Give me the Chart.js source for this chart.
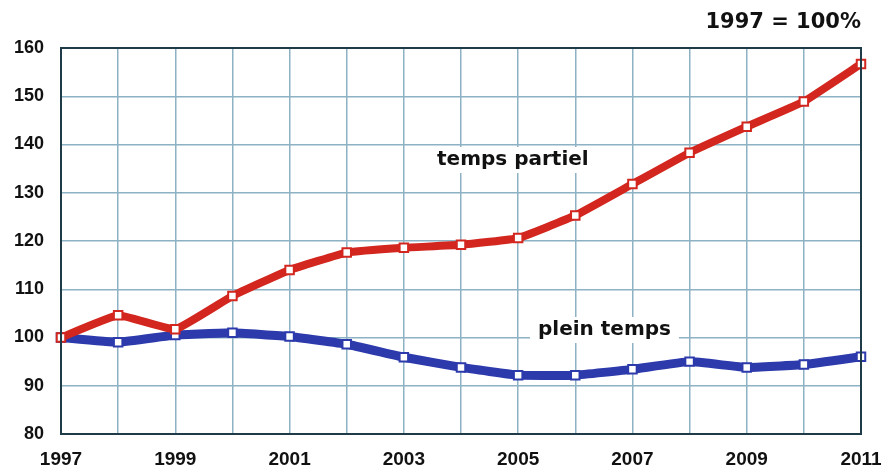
<!DOCTYPE html>
<html>
<head>
<meta charset="utf-8">
<script src="https://cdn.jsdelivr.net/npm/chart.js@4.4.1/dist/chart.umd.min.js"></script>
<style>
  html, body { margin: 0; padding: 0; background: #fff; }
  #wrap { width: 882px; height: 467px; position: relative; }
</style>
</head>
<body>
<div id="wrap"><canvas id="emploiChart" width="882" height="467"></canvas></div>
<script>
// Data (index 1997 = 100)
const years = ['1997', '1998', '1999', '2000', '2001', '2002', '2003', '2004',
    '2005', '2006', '2007', '2008', '2009', '2010', '2011'];
const tempsPartiel = [100, 104.6, 101.7, 108.6, 114, 117.6, 118.6, 119.2,
    120.6, 125.3, 131.8, 138.3, 143.7, 148.9, 156.7];
const pleinTemps = [100, 99, 100.5, 101, 100.2, 98.6, 95.9, 93.8,
    92.2, 92.2, 93.4, 95, 93.8, 94.4, 96];
const yTicks = [80, 90, 100, 110, 120, 130, 140, 150, 160];

const gridColor = 'rgb(140, 178, 196)';
const frameColor = '#1f3b48';
const redLine = 'rgb(210, 38, 30)';
const blueLine = 'rgb(44, 58, 172)';

// Labels written on the chart, with white boxes behind them
const annotations = {
    id: 'annotations',
    afterDatasetsDraw(chart) {
        const ctx = chart.ctx;
        const area = chart.chartArea;
        ctx.save();
        // frame around the plot area
        ctx.strokeStyle = frameColor;
        ctx.lineWidth = 2;
        ctx.strokeRect(area.left, area.top, area.right - area.left, area.bottom - area.top);

        ctx.font = 'bold 20px "DejaVu Sans", Verdana, sans-serif';
        ctx.textBaseline = 'middle';
        const labels = [
            { text: 'temps partiel', x: 437, y: 160 },
            { text: 'plein temps', x: 538, y: 330 }
        ];
        labels.forEach(l => {
            const w = ctx.measureText(l.text).width;
            ctx.fillStyle = '#fff';
            ctx.fillRect(l.x - 8, l.y - 13, w + 16, 26);
            ctx.fillStyle = '#111';
            ctx.fillText(l.text, l.x, l.y);
        });

        ctx.font = 'bold 21px "DejaVu Sans", Verdana, sans-serif';
        ctx.textAlign = 'right';
        ctx.fillText('1997 = 100%', 861, 23);
        ctx.restore();
    }
};

document.addEventListener('DOMContentLoaded', function () {
    const ctx = document.getElementById('emploiChart').getContext('2d');
    new Chart(ctx, {
        type: 'line',
        data: {
            labels: years,
            datasets: [{
                label: 'temps partiel',
                data: tempsPartiel,
                borderColor: redLine,
                backgroundColor: '#fff',
                borderWidth: 8,
                pointStyle: 'rect',
                pointRadius: 6,
                pointBorderWidth: 2,
                pointBorderColor: redLine,
                pointBackgroundColor: '#fff',
                tension: 0.1
            }, {
                label: 'plein temps',
                data: pleinTemps,
                borderColor: blueLine,
                backgroundColor: '#fff',
                borderWidth: 9,
                pointStyle: 'rect',
                pointRadius: 6,
                pointBorderWidth: 2,
                pointBorderColor: blueLine,
                pointBackgroundColor: '#fff',
                tension: 0.1
            }]
        },
        options: {
            responsive: false,
            animation: false,
            events: [],
            layout: { padding: { left: 0, right: 21, top: 48, bottom: 0 } },
            plugins: {
                legend: { display: false },
                tooltip: { enabled: false }
            },
            scales: {
                x: {
                    offset: false,
                    afterFit: scale => {
                        scale.height = 33;
                        scale.paddingLeft = 0;
                        scale.paddingRight = 0;
                    },
                    grid: { color: gridColor, lineWidth: 1.5, drawTicks: false },
                    border: { display: false },
                    ticks: {
                        autoSkip: false,
                        maxRotation: 0,
                        padding: 14,
                        color: '#111',
                        font: { family: '"Liberation Sans", Arial, sans-serif', size: 19, weight: 'bold' },
                        callback: (v, i) => (i % 2 === 0 ? years[i] : '')
                    }
                },
                y: {
                    min: 80,
                    max: 160,
                    afterFit: scale => {
                        scale.width = 61;
                        scale.paddingTop = 0;
                        scale.paddingBottom = 0;
                    },
                    afterBuildTicks: scale => { scale.ticks = yTicks.map(v => ({ value: v })); },
                    grid: { color: gridColor, lineWidth: 1.5, drawTicks: false },
                    border: { display: false },
                    ticks: {
                        padding: 17,
                        color: '#111',
                        font: { family: '"Liberation Sans", Arial, sans-serif', size: 18, weight: 'bold' }
                    }
                }
            }
        },
        plugins: [annotations]
    });
});
</script>
</body>
</html>
